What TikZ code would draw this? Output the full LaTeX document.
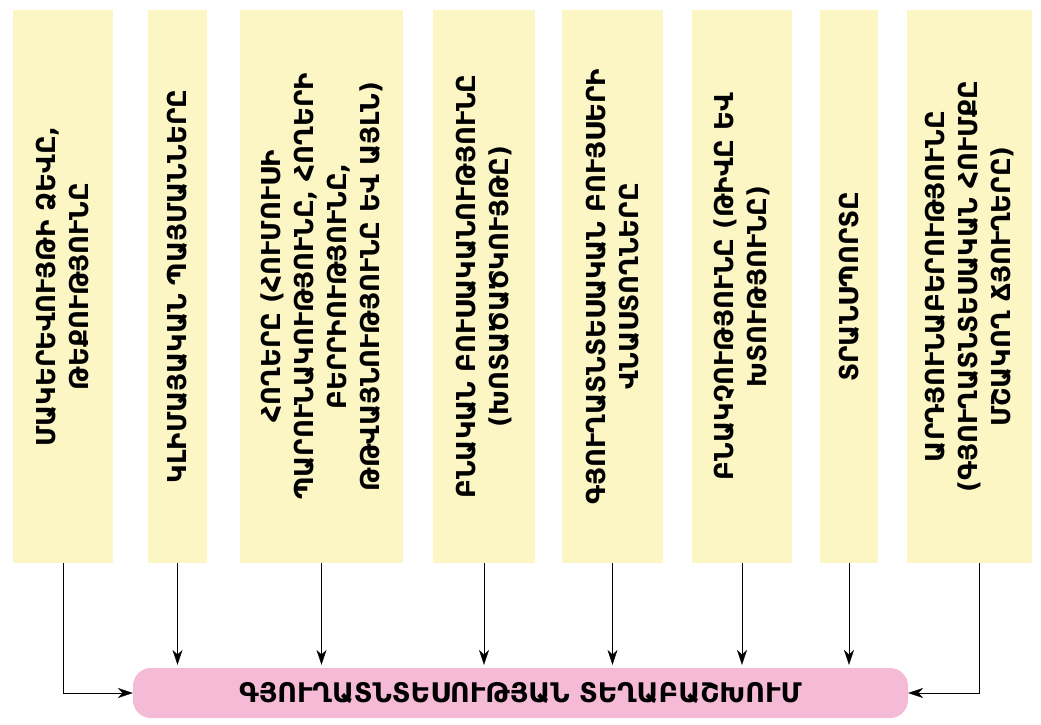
\documentclass[tikz,border=0pt]{standalone}
\usepackage{fontspec}
\setmainfont{DejaVu Sans}
\usetikzlibrary{arrows.meta}

\definecolor{factorfill}{HTML}{FBF6C4}
\definecolor{resultfill}{HTML}{F5BAD6}

\begin{document}
\begin{tikzpicture}[
  x=1pt, y=1pt,
  factor/.style={fill=factorfill, rotate=90, align=center, inner sep=0pt,
    minimum width=553pt, font=\bfseries\fontsize{26}{33}\selectfont},
  result/.style={fill=resultfill, rounded corners=18pt, minimum width=775pt,
    minimum height=50pt, font=\bfseries\fontsize{27}{30}\selectfont},
  >={Stealth[length=15pt, width=10pt]}
]
\useasboundingbox (0,0) rectangle (1041,724);

% factors
\node[factor, minimum height=100pt] (relief) at (63,437.5)
  {ՄԱԿԵՐԵՎՈՒՅԹԻ ՁԵՎԸ,\\ԹԵՔՈՒԹՅՈՒՆԸ};
\node[factor, minimum height=59pt] (climate) at (177.5,437.5)
  {ԿԼԻՄԱՅԱԿԱՆ ՊԱՅՄԱՆՆԵՐԸ};
\node[factor, minimum height=163pt] (soil) at (321.5,437.5)
  {ՀՈՂԵՐԸ (ՀՈՒՄՈՒՍԻ\\ՊԱՐՈՒՆԱԿՈՒԹՅՈՒՆԸ, ՀՈՂԵՐԻ\\ԲԵՐՐԻՈՒԹՅՈՒՆԸ,\\ԹԹՎԱՅՆՈՒԹՅՈՒՆԸ ԵՎ ԱՅԼՆ)};
\node[factor, minimum height=102pt] (veget) at (484,437.5)
  {ԲՆԱԿԱՆ ԲՈՒՍԱԿԱՆՈՒԹՅՈՒՆԸ\\(ԽՈՏԱԾԱԾԿՈՒՅԹԸ)};
\node[factor, minimum height=101pt] (pests) at (612.5,437.5)
  {ԳՅՈՒՂԱՏՆՏԵՍԱԿԱՆ ԲՈՒՅՍԵՐԻ\\ՎՆԱՍՏՈՂՆԵՐԸ};
\node[factor, minimum height=100pt] (popul) at (742,437.5)
  {ԲՆԱԿՉՈՒԹՅՈՒՆԸ (ԹԻՎԸ ԵՎ\\ԽՏՈՒԹՅՈՒՆԸ)};
\node[factor, minimum height=58pt] (transp) at (849,437.5)
  {ՏՐԱՆՍՊՈՐՏԸ};
\node[factor, minimum height=125pt] (industry) at (969.5,437.5)
  {ԱՐԴՅՈՒՆԱԲԵՐՈՒԹՅՈՒՆԸ\\(ԳՅՈՒՂԱՏՆՏԵՍԱԿԱՆ ՀՈՒՄՔԸ\\ՄՇԱԿՈՂ ՃՅՈՒՂԵՐԸ)};

% result
\node[result] (distrib) at (520.5,31) {ԳՅՈՒՂԱՏՆՏԵՍՈՒԹՅԱՆ ՏԵՂԱԲԱՇԽՈՒՄ};

\draw[->] (relief.west) |- (distrib.west);
\foreach \f in {climate,soil,veget,pests,popul,transp}
  \draw[->] (\f.west) -- ([yshift=3pt]\f.west |- distrib.north);
\draw[->] ([xshift=10pt]industry.west) |- (distrib.east);
\end{tikzpicture}
\end{document}
